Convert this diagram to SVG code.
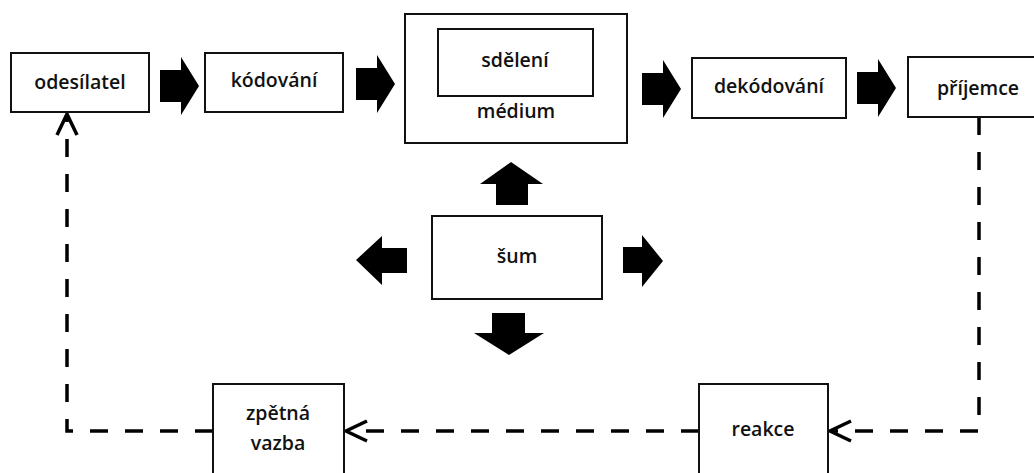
<svg xmlns="http://www.w3.org/2000/svg" width="1034" height="473" viewBox="0 0 1034 473">
<style>
.box{fill:#fff;stroke:#111;stroke-width:2}
.lbl{font-family:"Open Sans","Liberation Sans",sans-serif;font-weight:600;font-size:19.5px;fill:#111;text-anchor:middle}
.blk{fill:#000}
.dash{fill:none;stroke:#000;stroke-width:3.5;stroke-dasharray:18 17}
</style>
<defs>
<polygon id="rarrow" points="0,-16 21,-16 21,-29 39,0 21,29 21,16 0,16"/>
<marker id="chev" markerUnits="userSpaceOnUse" markerWidth="30" markerHeight="30" viewBox="-26 -14 30 28" refX="0" refY="0" orient="auto" overflow="visible">
<path d="M-21,-10 L0,0 L-21,10" fill="none" stroke="#000" stroke-width="3.5" stroke-dasharray="none"/>
</marker>
</defs>
<rect width="1034" height="473" fill="#fff"/>

<g id="connectors">
<use href="#rarrow" class="blk" x="160" y="86"/>
<use href="#rarrow" class="blk" x="356" y="84"/>
<use href="#rarrow" class="blk" x="642" y="89"/>
<use href="#rarrow" class="blk" x="857" y="88"/>
<polygon class="blk" points="496,205 496,184 480,184 511,162 543,184 528,184 528,205"/>
<polygon class="blk" points="407,248 382,248 382,236 356,260 382,285 382,273 407,273"/>
<polygon class="blk" points="623,247 642,247 642,235 663,261 642,287 642,273 623,273"/>
<polygon class="blk" points="492,313 525,313 525,333 544,333 509,355 474,333 492,333"/>
<path class="dash" d="M979,117 V431 H830" marker-end="url(#chev)"/>
<path class="dash" d="M699,431 H346" marker-end="url(#chev)"/>
<path class="dash" d="M213,431 H67 V114" marker-end="url(#chev)"/>
</g>

<g id="odesilatel"><rect class="box" x="11" y="53" width="138" height="59"/><text class="lbl" x="80" y="89">odesílatel</text></g>
<g id="kodovani"><rect class="box" x="205" y="53" width="138" height="59"/><text class="lbl" x="274" y="87">kódování</text></g>
<g id="medium"><rect class="box" x="405" y="14" width="222" height="129"/><text class="lbl" x="516" y="118">médium</text></g>
<g id="sdeleni"><rect class="box" x="438" y="29" width="155" height="67"/><text class="lbl" x="515" y="67">sdělení</text></g>
<g id="dekodovani"><rect class="box" x="692" y="58" width="154" height="60"/><text class="lbl" x="769" y="93">dekódování</text></g>
<g id="prijemce"><rect class="box" x="908" y="57" width="140" height="60"/><text class="lbl" x="978" y="95">příjemce</text></g>
<g id="sum"><rect class="box" x="432" y="216" width="170" height="83"/><text class="lbl" x="517" y="263">šum</text></g>
<g id="reakce"><rect class="box" x="699" y="384" width="129" height="100"/><text class="lbl" x="763" y="436">reakce</text></g>
<g id="zpetna-vazba"><rect class="box" x="213" y="384" width="131" height="100"/><text class="lbl" x="278" y="420">zpětná</text><text class="lbl" x="278" y="450">vazba</text></g>
</svg>
